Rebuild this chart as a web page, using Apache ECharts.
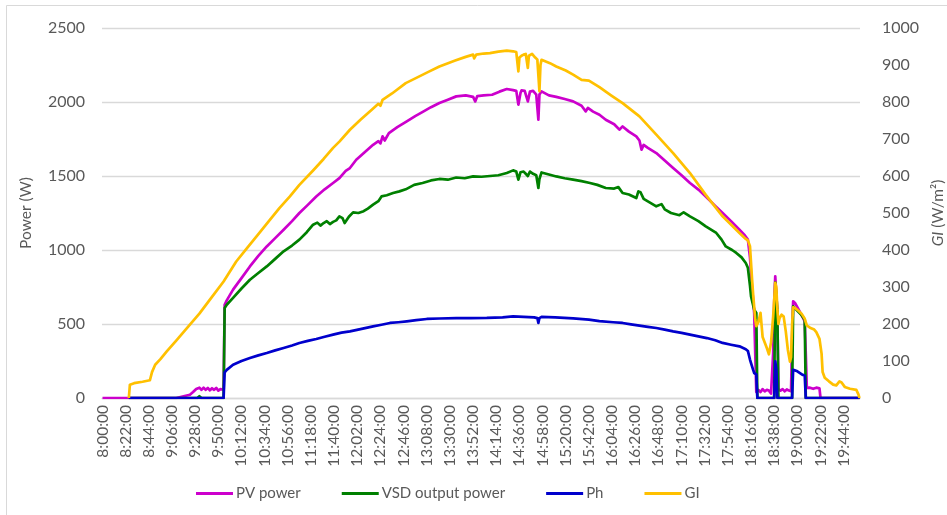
<!DOCTYPE html>
<html>
<head>
<meta charset="utf-8">
<script src="https://cdn.jsdelivr.net/npm/echarts@6/dist/echarts.min.js"></script>
<style>
html,body{margin:0;padding:0;background:#fff;overflow:hidden;}
#chart{width:947px;height:515px;}
</style>
</head>
<body>
<div id="chart"></div>
<script>
// ---- Data (minutes after 8:00 and values) ----
const startHour = 8;
const nMinutes = 720;          // 8:00:00 ... 19:59:00
const labelEvery = 22;         // tick label every 22 minutes

const pvT = [0,70,76,83,86,89,92,94,96,98,100,102,104,106,108,110,112,115,116,118,124,132,140,148,156,164,172,180,187,195,203,211,219,225,231,235,241,249,257,262,264,266,268,272,280,289,297,305,312,320,328,336,345,352,354,356,362,370,377,384,390,393,395,397,398,401,404,406,409,412,414,415,417,424,431,439,447,455,459,461,466,472,478,486,491,494,500,507,510,512,514,518,526,534,542,550,558,566,573,581,589,597,605,610,613,615,616,617,618,619,620,621,623,625,627,629,631,633,635,637,638,639,640,641,642,644,646,648,650,652,654,655,656,658,661,664,667,668,669,672,675,678,681,682,719];
const pvV = [0,0,10,22,40,61,70,55,70,55,68,52,66,55,68,50,60,56,630,660,732,810,889,960,1024,1080,1137,1195,1250,1305,1362,1410,1453,1486,1535,1554,1610,1660,1711,1735,1720,1768,1740,1790,1830,1869,1905,1937,1965,1993,2015,2038,2045,2035,2004,2040,2045,2049,2070,2088,2080,2075,1982,2060,2078,2075,2004,2070,2075,2050,1880,2050,2072,2045,2035,2020,2004,1975,1937,1960,1935,1914,1880,1850,1813,1835,1800,1768,1740,1678,1710,1690,1655,1605,1554,1505,1453,1408,1362,1305,1250,1195,1137,1100,1070,950,845,740,664,574,300,40,55,40,60,45,55,50,30,300,650,822,700,580,60,50,60,45,58,50,45,400,653,640,600,560,518,300,68,70,62,70,65,0,0];

const vsdT = [25,90,92,94,115,116,118,124,132,140,148,156,164,172,180,187,194,200,204,207,210,213,216,219,222,225,228,230,234,238,243,248,252,257,262,265,270,276,282,288,296,304,312,320,328,336,344,352,360,368,376,384,390,393,395,397,400,402,404,406,409,412,414,415,417,424,431,439,447,455,463,470,478,486,490,494,500,507,509,511,514,520,526,531,534,540,548,552,558,566,573,583,588,592,598,602,607,611,613,615,616,619,621,622,638,639,640,641,642,655,656,660,664,667,668,719];
const vsdV = [0,0,12,0,0,608,630,676,740,799,845,889,940,991,1030,1070,1120,1171,1185,1165,1182,1195,1175,1190,1200,1227,1215,1182,1225,1254,1250,1262,1280,1306,1330,1362,1370,1385,1396,1410,1440,1453,1470,1480,1475,1490,1485,1497,1495,1500,1505,1520,1538,1530,1475,1525,1530,1515,1500,1530,1515,1505,1419,1480,1524,1510,1497,1485,1475,1465,1453,1440,1419,1415,1425,1385,1375,1351,1396,1390,1345,1320,1295,1310,1275,1250,1235,1255,1227,1195,1160,1115,1070,1024,1000,980,950,912,880,760,686,597,574,0,0,780,700,580,0,0,619,590,560,529,0,0];

const phT = [25,115,116,118,124,132,140,148,156,164,172,180,187,195,203,211,219,227,235,245,257,265,273,281,289,298,308,320,336,350,365,380,390,400,410,413,414,415,417,430,447,462,472,485,494,502,510,518,526,534,542,550,558,566,574,582,589,597,605,611,613,615,616,618,619,621,622,638,639,640,641,655,656,660,665,667,668,719];
const phV = [0,0,173,190,225,250,270,288,304,322,338,355,372,386,399,414,428,442,450,465,484,495,507,512,518,526,534,537,540,540,541,545,551,548,545,540,507,540,548,545,538,529,520,512,507,498,489,481,473,462,450,440,428,416,405,390,372,360,349,330,318,260,236,190,169,160,0,0,247,200,0,0,191,180,157,150,0,0];

const giT = [25,26,30,38,45,47,50,55,61,70,83,92,102,115,127,138,149,158,168,178,187,200,210,219,225,235,245,256,262,264,266,275,288,300,310,320,335,345,352,353,355,362,368,376,384,390,393,395,396,398,400,402,404,405,408,411,413,415,416,417,425,431,440,447,455,462,472,483,494,510,526,542,558,573,589,600,605,611,613,615,617,618,620,621,622,623,625,627,629,631,633,635,637,639,640,641,642,643,645,647,649,651,653,654,655,656,658,661,664,667,669,672,676,678,681,683,684,686,690,694,697,700,702,705,710,716,718,719];
const giV = [0,36,40,44,48,70,90,105,126,155,198,228,266,315,369,408,446,478,513,545,576,615,646,676,693,725,752,780,795,790,806,823,851,868,882,896,912,922,928,918,928,931,932,936,939,937,935,883,920,925,928,930,892,925,930,920,915,829,900,914,905,896,885,874,860,858,840,818,797,761,712,662,608,549,491,460,446,430,426,410,320,280,212,194,194,205,230,165,150,135,118,150,220,311,300,240,200,215,225,220,180,130,98,110,200,245,243,236,228,214,196,190,185,178,160,120,70,55,45,36,34,45,42,30,25,22,10,0];

const leftTicks = {min: 0, max: 2500, interval: 500};
const rightTicks = {min: 0, max: 1000, interval: 100};

// ---- Build ----
const categories = [];
for (let m = 0; m < nMinutes; m++) {
  const h = startHour + Math.floor(m / 60);
  const mm = m % 60;
  categories.push(h + ':' + (mm < 10 ? '0' : '') + mm + ':00');
}
const pair = (t, v) => t.map((x, i) => [x, v[i]]);

const FONT = 'Lato, "Open Sans", sans-serif';
const TXT = '#595959';

const chart = echarts.init(document.getElementById('chart'), null, {renderer: 'canvas'});
const mk = (name, color, data, yIdx) => ({
  name, type: 'line', data, yAxisIndex: yIdx, symbol: 'none', showSymbol: false,
  lineStyle: {color, width: 2.7, join: 'round'}, itemStyle: {color},
  animation: false, z: 2
});

const legendIcon = 'rect';

chart.setOption({
  animation: false,
  backgroundColor: '#fff',
  graphic: [{
    type: 'rect', shape: {x: 6.5, y: 5.5, width: 1000, height: 600},
    style: {fill: 'none', stroke: '#d9d9d9', lineWidth: 1}, silent: true, z: -1
  }],
  grid: {left: 102, top: 28, width: 758, height: 370, containLabel: false, outerBoundsMode: 'none'},
  legend: {
    bottom: 9, left: 191, itemWidth: 37, itemHeight: 3, itemGap: 41,
    textStyle: {color: TXT, fontFamily: FONT, fontSize: 15, padding: [0, 0, 0, -2]},
    data: [
      {name: 'PV power', icon: legendIcon},
      {name: 'VSD output power', icon: legendIcon},
      {name: 'Ph', icon: legendIcon},
      {name: 'GI', icon: legendIcon}
    ]
  },
  xAxis: {
    type: 'category', data: categories, boundaryGap: true,
    axisLine: {show: true, lineStyle: {color: '#d9d9d9', width: 1.3}},
    axisTick: {show: false},
    splitLine: {show: false},
    axisLabel: {
      interval: labelEvery - 1, rotate: 90, color: TXT, fontFamily: FONT,
      fontSize: 15.5, margin: 7
    }
  },
  yAxis: [{
    type: 'value', min: leftTicks.min, max: leftTicks.max, interval: leftTicks.interval,
    name: 'Power (W)', nameLocation: 'middle', nameRotate: 90, nameGap: 68,
    nameTextStyle: {color: TXT, fontFamily: FONT, fontSize: 15.5},
    axisLine: {show: false}, axisTick: {show: false},
    axisLabel: {color: TXT, fontFamily: FONT, fontSize: 16, margin: 17, formatter: v => String(v)},
    splitLine: {show: true, lineStyle: {color: '#d9d9d9', width: 1.3}}
  }, {
    type: 'value', min: rightTicks.min, max: rightTicks.max, interval: rightTicks.interval,
    position: 'right',
    name: '{i|GI} (W/m²)', nameLocation: 'middle', nameRotate: 90, nameGap: 70,
    nameTextStyle: {color: TXT, fontFamily: FONT, fontSize: 15.5,
      rich: {i: {fontStyle: 'italic', color: TXT, fontFamily: FONT, fontSize: 15.5}}},
    axisLine: {show: false}, axisTick: {show: false},
    axisLabel: {color: TXT, fontFamily: FONT, fontSize: 16, margin: 22, formatter: v => String(v)},
    splitLine: {show: false}
  }],
  series: [
    mk('PV power', '#cc00cc', pair(pvT, pvV), 0),
    mk('VSD output power', '#008000', pair(vsdT, vsdV), 0),
    mk('Ph', '#0000cc', pair(phT, phV), 0),
    mk('GI', '#ffc000', pair(giT, giV), 1)
  ]
});
</script>
</body>
</html>
